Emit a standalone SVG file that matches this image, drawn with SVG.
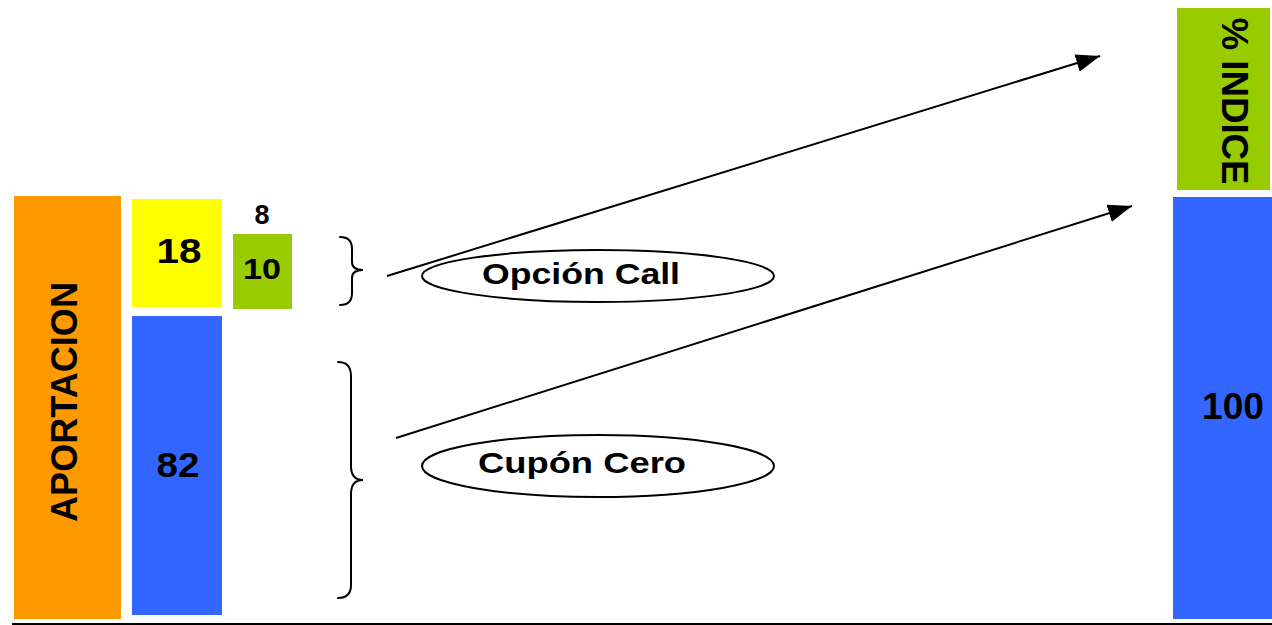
<svg xmlns="http://www.w3.org/2000/svg" width="1272" height="625" viewBox="0 0 1272 625">
<defs>
<style>
.t{font-family:"Liberation Sans",Arial,sans-serif;font-weight:bold;fill:#000;text-anchor:middle}
.ln{stroke:#000;stroke-width:2;fill:none}
.br{stroke:#000;stroke-width:2;fill:none;stroke-linecap:round}
.el{stroke:#000;stroke-width:2;fill:#fff}
</style>
<marker id="ah2" viewBox="0 0 24 18" refX="24" refY="9" markerWidth="24" markerHeight="18" markerUnits="userSpaceOnUse" orient="auto">
<path d="M0,0 L24,9 L0,18 z" fill="#000"/>
</marker>
</defs>
<rect width="1272" height="625" fill="#fff"/>
<g id="aportacion">
<rect x="14" y="196" width="107" height="423" fill="#FF9900"/>
<text class="t" font-size="36" transform="translate(77,402) rotate(-90)" x="0" y="0" textLength="240" lengthAdjust="spacingAndGlyphs">APORTACION</text>
</g>
<g id="bar18">
<rect x="132" y="199" width="90" height="108" fill="#FFFF00"/>
<text class="t" x="179" y="263" font-size="35" textLength="45" lengthAdjust="spacingAndGlyphs">18</text>
</g>
<g id="bar82">
<rect x="132" y="316" width="90" height="299" fill="#3366FF"/>
<text class="t" x="178" y="477" font-size="35" textLength="43" lengthAdjust="spacingAndGlyphs">82</text>
</g>
<g id="bar10">
<rect x="233" y="234" width="59" height="75" fill="#99CC00"/>
<text class="t" x="262" y="279" font-size="29" textLength="38" lengthAdjust="spacingAndGlyphs">10</text>
</g>
<g id="label8">
<text class="t" x="262" y="224" font-size="27">8</text>
</g>
<g id="indice">
<rect x="1177" y="8" width="93" height="182" fill="#99CC00"/>
<text class="t" font-size="36" transform="translate(1222,101) rotate(90)" x="0" y="0" textLength="167" lengthAdjust="spacingAndGlyphs">% INDICE</text>
</g>
<g id="bar100">
<rect x="1173" y="197" width="99" height="422" fill="#3366FF"/>
<text class="t" x="1233" y="419" font-size="36" textLength="62" lengthAdjust="spacingAndGlyphs">100</text>
</g>
<g id="braces">
<path class="br" d="M340,237 Q352,237 352,249 L352,262 Q352,270 363,270 Q352,270 352,278 L352,293 Q352,305 340,305"/>
<path class="br" d="M338,362 Q351,362 351,376 L351,466 Q351,480 363,480 Q351,480 351,494 L351,585 Q351,598 338,598"/>
</g>
<g id="connectors">
<line class="ln" x1="387" y1="276" x2="1100" y2="56" marker-end="url(#ah2)"/>
<line class="ln" x1="396" y1="438" x2="1132" y2="206" marker-end="url(#ah2)"/>
<line x1="12" y1="624" x2="1272" y2="624" stroke="#000" stroke-width="2"/>
</g>
<g id="opcion">
<ellipse class="el" cx="598" cy="276" rx="176" ry="26"/>
<text class="t" x="581" y="284" font-size="30" textLength="198" lengthAdjust="spacingAndGlyphs">Opción Call</text>
</g>
<g id="cupon">
<ellipse class="el" cx="598" cy="466" rx="176" ry="31"/>
<text class="t" x="582" y="473" font-size="30" textLength="208" lengthAdjust="spacingAndGlyphs">Cupón Cero</text>
</g>
</svg>
